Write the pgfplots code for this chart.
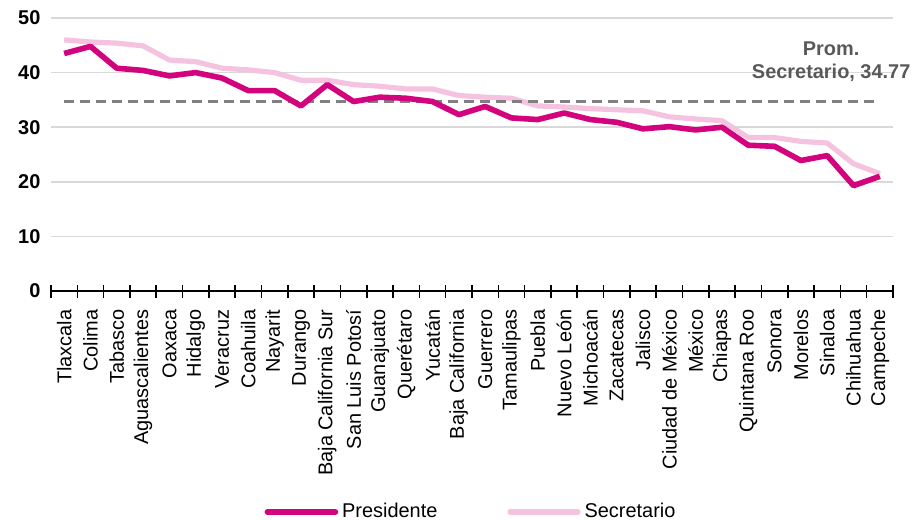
\documentclass[border=0pt]{standalone}
\usepackage{pgfplots}
\pgfplotsset{compat=1.18}
\usepackage{fontspec}
\setmainfont{Liberation Sans}
\definecolor{pres}{HTML}{D3037E}
\definecolor{secr}{HTML}{F5C3DF}
\definecolor{prom}{HTML}{808080}
\definecolor{lbl}{HTML}{595959}
\definecolor{gridc}{HTML}{D9D9D9}
\begin{document}
\begin{tikzpicture}
\begin{axis}[
  scale only axis,
  width=421bp, height=136.5bp,
  xmin=-0.5, xmax=31.5, ymin=0, ymax=50,
  ytick={0,10,...,50},
  /pgf/number format/assume math mode=true,
  axis x line*=bottom, axis y line*=left,
  y axis line style={draw=none},
  x axis line style={line width=1bp, black},
  ytick style={draw=none},
  ymajorgrids, grid style={gridc, line width=0.8bp},
  yticklabel style={font=\fontsize{10}{12}\selectfont\bfseries, inner sep=3bp},
  xtick={0,...,31},
  xticklabels={Tlaxcala,Colima,Tabasco,Aguascalientes,Oaxaca,Hidalgo,Veracruz,Coahuila,Nayarit,Durango,Baja California Sur,San Luis Potosí,Guanajuato,Querétaro,Yucatán,Baja California,Guerrero,Tamaulipas,Puebla,Nuevo León,Michoacán,Zacatecas,Jalisco,Ciudad de México,México,Chiapas,Quintana Roo,Sonora,Morelos,Sinaloa,Chihuahua,Campeche},
  major x tick style={draw=none},
  minor xtick={-0.5,0.5,1.5,2.5,3.5,4.5,5.5,6.5,7.5,8.5,9.5,10.5,11.5,12.5,13.5,14.5,15.5,16.5,17.5,18.5,19.5,20.5,21.5,22.5,23.5,24.5,25.5,26.5,27.5,28.5,29.5,30.5,31.5},
  minor x tick style={black, line width=0.8bp},
  minor tick length=6.5bp,
  tick align=center,
  xticklabel style={rotate=90, anchor=east, inner sep=0pt, font=\fontsize{10}{12}\selectfont},
  xticklabel shift=7bp,
  legend columns=2,
  legend style={at={(0.5,0)}, anchor=center, yshift=-110.5bp, draw=none, fill=none,
    font=\fontsize{10}{12}\selectfont, inner sep=0pt,
    /tikz/every even column/.append style={column sep=33bp}},
  legend image code/.code={\draw[#1, line cap=round] (0bp,0bp) -- (34bp,0bp);},
  clip=false,
]
\coordinate (bl) at (rel axis cs:0,0);
\coordinate (tr) at (rel axis cs:1,1);
\addplot[secr, line width=2.6bp, line join=round, forget plot] coordinates {
(0,46.0) (1,45.6) (2,45.4) (3,44.9) (4,42.3) (5,42.0) (6,40.8) (7,40.5) (8,40.0) (9,38.6)
(10,38.6) (11,37.8) (12,37.5) (13,37.0) (14,37.0) (15,35.8) (16,35.5) (17,35.3) (18,33.9) (19,33.7)
(20,33.4) (21,33.2) (22,33.0) (23,31.9) (24,31.5) (25,31.2) (26,28.1) (27,28.1) (28,27.4) (29,27.1)
(30,23.3) (31,21.5)};
\addplot[prom, line width=1.6bp, dash pattern=on 5bp off 3bp, forget plot] coordinates {(0,34.77) (31,34.77)};
\addplot[pres, line width=2.8bp, line join=round] coordinates {
(0,43.5) (1,44.8) (2,40.8) (3,40.4) (4,39.4) (5,40.0) (6,39.0) (7,36.7) (8,36.7) (9,33.9)
(10,37.8) (11,34.7) (12,35.5) (13,35.3) (14,34.7) (15,32.3) (16,33.8) (17,31.7) (18,31.4) (19,32.6)
(20,31.4) (21,30.9) (22,29.7) (23,30.1) (24,29.5) (25,30.0) (26,26.7) (27,26.5) (28,23.9) (29,24.8)
(30,19.3) (31,21.0)};
\addlegendentry{Presidente}
\addlegendimage{secr, line width=2.6bp}
\addlegendentry{Secretario}
\node[align=center, text=lbl, font=\fontsize{10}{11.5}\selectfont\bfseries, inner sep=0pt] at (axis cs:29.15,42) {Prom.\\Secretario, 34.77};
\end{axis}
\pgfresetboundingbox
\path ([shift={(-25.5bp,-114.5bp)}]bl) rectangle ([shift={(10.5bp,9bp)}]tr);
\end{tikzpicture}
\end{document}
